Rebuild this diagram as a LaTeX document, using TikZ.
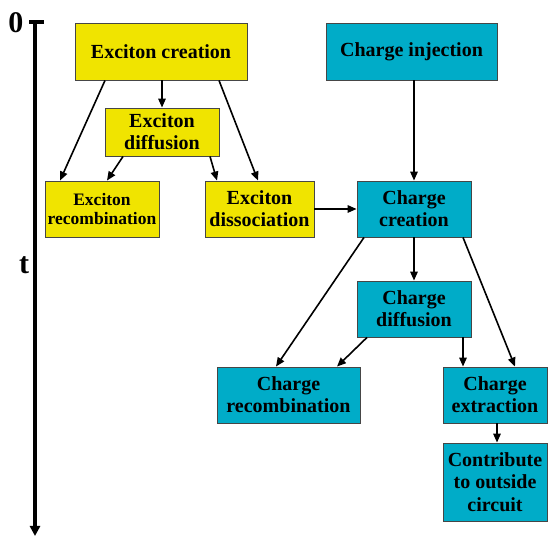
\documentclass[tikz,border=0pt]{standalone}
\usepackage{fontspec}
\setmainfont{Liberation Serif}
\usetikzlibrary{arrows.meta}
\definecolor{ybox}{RGB}{240,228,0}
\definecolor{cbox}{RGB}{0,172,200}
\definecolor{bord}{RGB}{70,70,70}
\begin{document}
\begin{tikzpicture}[x=1pt,y=1pt,
  box/.style={draw=bord,line width=0.9pt,inner sep=0pt,align=center,
    font=\fontsize{20}{22}\selectfont\bfseries},
  ybx/.style={box,fill=ybox},
  cbx/.style={box,fill=cbox},
  conn/.style={line width=1.6pt,-{Triangle[length=9pt,width=7.5pt]}}]
\useasboundingbox (0,0) rectangle (548,537);
% time axis
\coordinate (top) at (35,515);
\coordinate (bot) at (35,1);
\draw[line width=3.4pt,-{Triangle[length=10pt,width=10pt]}] (top) -- (bot);
\draw[line width=3.4pt] (29,515) -- (44,515);
\node[font=\fontsize{30}{30}\selectfont\bfseries] (zero) at (16,514) {0};
\node[font=\fontsize{30}{30}\selectfont\bfseries] (tlab) at (24,272) {t};
% boxes
\node[ybx,minimum width=172pt,minimum height=57pt] (ec) at (161,485.5) {Exciton creation};
\node[ybx,minimum width=114pt,minimum height=48pt] (ed) at (162,405) {Exciton\\diffusion};
\node[ybx,minimum width=114pt,minimum height=56pt,font=\fontsize{17.5}{19.5}\selectfont\bfseries] (er) at (102,328) {Exciton\\recombination};
\node[ybx,minimum width=109pt,minimum height=56pt] (eds) at (259.5,328) {Exciton\\dissociation};
\node[cbx,minimum width=171pt,minimum height=57pt] (ci) at (411.5,485.5) {Charge injection};
\node[cbx,minimum width=114pt,minimum height=56pt] (cc) at (414,328) {Charge\\creation};
\node[cbx,minimum width=114pt,minimum height=56pt] (cd) at (414,228) {Charge\\diffusion};
\node[cbx,minimum width=143pt,minimum height=56pt] (cr) at (288.5,142) {Charge\\recombination};
\node[cbx,minimum width=104pt,minimum height=56pt] (cx) at (495,142) {Charge\\extraction};
\node[cbx,minimum width=104pt,minimum height=78pt,font=\fontsize{20}{22.5}\selectfont\bfseries] (co) at (495,55) {Contribute\\to outside\\circuit};
% connectors
\draw[conn] ([xshift=-56pt]ec.south) -- ([xshift=-42pt]er.north);
\draw[conn] (ec.south -| ed.north) -- (ed.north);
\draw[conn] ([xshift=58pt]ec.south) -- ([xshift=-1.5pt]eds.north);
\draw[conn] ([xshift=-39pt]ed.south) -- ([xshift=5pt]er.north);
\draw[conn] ([xshift=48pt]ed.south) -- ([xshift=-42.5pt]eds.north);
\draw[conn] (eds.east) -- (cc.west);
\draw[conn] (ci.south -| cc.north) -- (cc.north);
\draw[conn] ([xshift=-50pt]cc.south) -- ([xshift=-12.5pt]cr.north);
\draw[conn] (cc.south) -- (cd.north);
\draw[conn] ([xshift=49pt]cc.south) -- ([xshift=20pt]cx.north);
\draw[conn] ([xshift=-47pt]cd.south) -- ([xshift=48.5pt]cr.north);
\draw[conn] ([xshift=49pt]cd.south) -- ([xshift=-32pt]cx.north);
\draw[conn] ([xshift=2pt]cx.south) -- ([xshift=2pt]co.north);
\end{tikzpicture}
\end{document}
